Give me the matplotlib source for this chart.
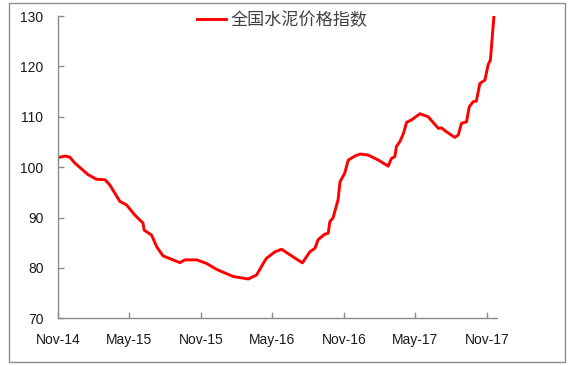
import pandas as pd
import matplotlib
matplotlib.use("Agg")
import matplotlib.pyplot as plt
import matplotlib.dates as mdates
from matplotlib.patches import Rectangle

# traced points of the index (date, value)
dates = ["2014-11-01", "2014-11-19", "2014-12-01", "2014-12-14", "2015-01-17",
         "2015-02-07", "2015-03-01", "2015-03-13", "2015-04-08", "2015-04-25",
         "2015-05-16", "2015-06-06", "2015-06-09", "2015-06-28", "2015-07-11",
         "2015-07-27", "2015-09-08", "2015-09-21", "2015-10-21", "2015-11-15",
         "2015-12-11", "2016-01-22", "2016-03-01", "2016-03-22", "2016-04-08",
         "2016-04-16", "2016-05-08", "2016-05-25", "2016-06-23", "2016-07-17",
         "2016-08-05", "2016-08-18", "2016-08-26", "2016-09-12", "2016-09-21",
         "2016-09-25", "2016-10-03", "2016-10-16", "2016-10-21", "2016-11-02",
         "2016-11-11", "2016-11-28", "2016-12-11", "2017-01-01", "2017-01-27",
         "2017-02-21", "2017-03-01", "2017-03-10", "2017-03-14", "2017-03-23",
         "2017-04-01", "2017-04-09", "2017-04-22", "2017-05-13", "2017-06-03",
         "2017-06-29", "2017-07-07", "2017-07-20", "2017-08-10", "2017-08-19",
         "2017-08-27", "2017-09-09", "2017-09-16", "2017-09-26", "2017-10-04",
         "2017-10-13", "2017-10-26", "2017-11-03", "2017-11-09", "2017-11-14",
         "2017-11-18"]
values = [101.9, 102.2, 102.0, 100.8, 98.5,
          97.6, 97.5, 96.5, 93.2, 92.5,
          90.5, 88.9, 87.5, 86.5, 84.2,
          82.4, 81.05, 81.6, 81.6, 80.9,
          79.7, 78.3, 77.8, 78.6, 80.9,
          81.9, 83.2, 83.7, 82.2, 81.0,
          83.2, 83.9, 85.6, 86.7, 86.9,
          89.2, 89.9, 93.5, 97.1, 98.8,
          101.4, 102.2, 102.6, 102.4, 101.4,
          100.2, 101.7, 102.1, 104.1, 105.1,
          106.7, 108.9, 109.4, 110.6, 110.0,
          107.7, 107.8, 107.0, 105.9, 106.4,
          108.7, 109.0, 112.0, 113.0, 113.1,
          116.6, 117.3, 120.3, 121.3, 126.2,
          130.0]
series_name = "全国水泥价格指数"
tick_dates = ["2014-11-01", "2015-05-01", "2015-11-01", "2016-05-01",
              "2016-11-01", "2017-05-01", "2017-11-01"]
y_ticks = [70, 80, 90, 100, 110, 120, 130]

plt.rcParams['font.family'] = ['Liberation Sans', 'DejaVu Sans']

fig = plt.figure(figsize=(5.75, 3.66), dpi=100)
ax = fig.add_axes([58/575, 1-318.3/366, (496.7-58)/575, (318.3-16)/366])

x = pd.to_datetime(dates)
ax.plot(x, values, color='#ff0000', lw=2.1, label=series_name, solid_joinstyle='round')

ax.set_xlim(pd.Timestamp("2014-11-01"), pd.Timestamp("2017-11-25"))
ax.set_ylim(70, 130)
ax.set_xticks(pd.to_datetime(tick_dates))
ax.xaxis.set_major_formatter(mdates.DateFormatter('%b-%y'))
ax.set_yticks(y_ticks)

for s in ['top', 'right']:
    ax.spines[s].set_visible(False)
for s in ['left', 'bottom']:
    ax.spines[s].set_color('#8c8c8c')
    ax.spines[s].set_linewidth(1.0)
ax.tick_params(axis='both', direction='in', length=4, width=1, color='#8c8c8c',
               labelsize=10, labelcolor='#1a1a1a')
ax.tick_params(axis='y', pad=10.5)
ax.tick_params(axis='x', pad=10.5)

leg = fig.legend(loc='center left', bbox_to_anchor=(197/575, 1-20/366),
                 frameon=False, borderpad=0, borderaxespad=0,
                 handlelength=1.72, handletextpad=0.25,
                 prop={'family': ['Noto Sans CJK SC', 'DejaVu Sans'], 'size': 12.3})
for t in leg.get_texts():
    t.set_color('#404040')

# outer frame around the whole chart
fig.patches.append(Rectangle((9/575, 1-361.5/366), (565-9)/575, (361.5-3.3)/366,
                             transform=fig.transFigure, fill=False,
                             edgecolor='#8c8c8c', lw=1.0))

fig.savefig("out.png", dpi=100)
